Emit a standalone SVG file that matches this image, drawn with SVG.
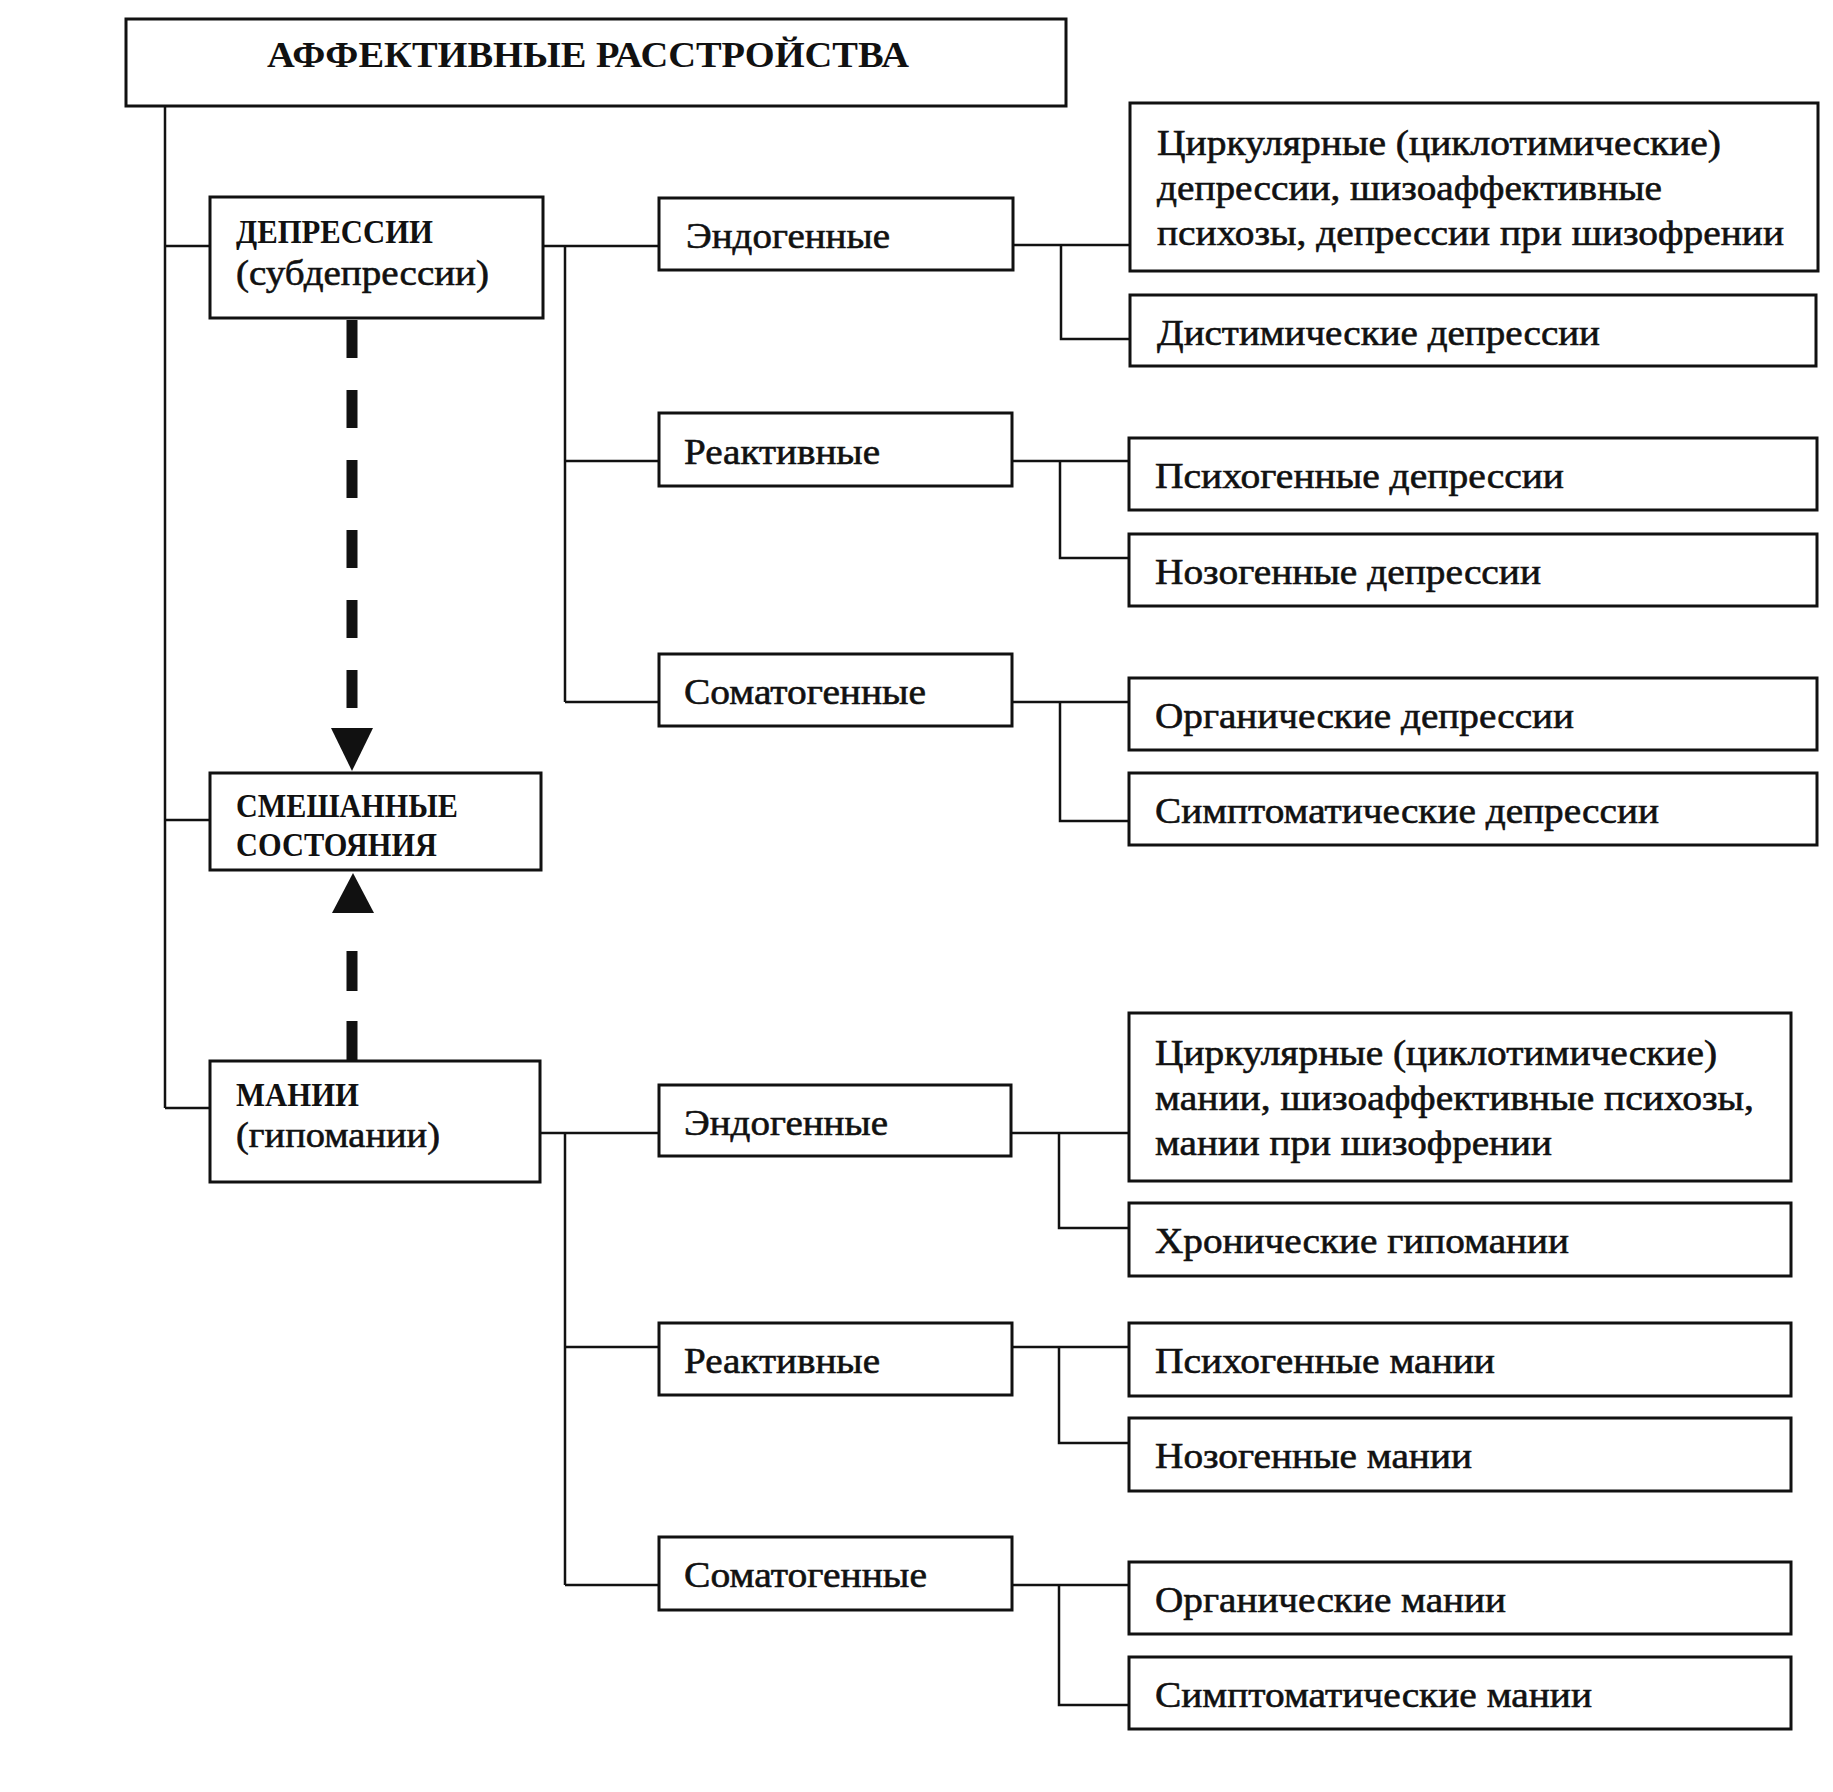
<svg xmlns="http://www.w3.org/2000/svg" width="1833" height="1792" viewBox="0 0 1833 1792">
<defs>
<style>
.box{fill:#fff;stroke:#111;stroke-width:3}
.ln{fill:none;stroke:#111;stroke-width:2.5}
.dash{fill:none;stroke:#111;stroke-width:11}
.t{font-family:"Liberation Serif","Times New Roman",serif;font-size:36px;fill:#111;stroke:#111;stroke-width:0.6}
.b{font-family:"Liberation Serif","Times New Roman",serif;font-size:33px;font-weight:bold;fill:#111}
.h{font-family:"Liberation Serif","Times New Roman",serif;font-size:35px;font-weight:bold;fill:#111}
</style>
</defs>
<rect width="1833" height="1792" fill="#fff"/>
<g id="connectors">
<path class="ln" d="M165,106 V1108 M165,246 H210 M165,820 H210 M165,1108 H210"/>
<path class="ln" d="M543,246 H659 M565,246 V702 M565,461 H659 M565,702 H659"/>
<path class="ln" d="M1013,245 H1130 M1061,245 V339 H1130 M1012,461 H1129 M1060,461 V558 H1129 M1012,702 H1129 M1060,702 V821 H1129"/>
<path class="ln" d="M540,1133 H659 M565,1133 V1585 M565,1347 H659 M565,1585 H659"/>
<path class="ln" d="M1011,1133 H1129 M1059,1133 V1228 H1129 M1012,1347 H1129 M1059,1347 V1443 H1129 M1012,1585 H1129 M1059,1585 V1705 H1129"/>
<line class="dash" x1="352" y1="320" x2="352" y2="708" stroke-dasharray="38 32"/>
<polygon points="331,728 373,728 352,771" fill="#111"/>
<line class="dash" x1="352" y1="1061" x2="352" y2="950" stroke-dasharray="40 30"/>
<polygon points="332,913 374,913 353,873" fill="#111"/>
</g>
<g id="root"><rect class="box" x="126" y="19" width="940" height="87"/><text class="h" x="267" y="67" textLength="642" lengthAdjust="spacingAndGlyphs">АФФЕКТИВНЫЕ РАССТРОЙСТВА</text></g>
<g id="depr"><rect class="box" x="210" y="197" width="333" height="121"/><text class="b" x="236" y="243" textLength="197" lengthAdjust="spacingAndGlyphs">ДЕПРЕССИИ</text><text class="t" x="236" y="285" textLength="253" lengthAdjust="spacingAndGlyphs">(субдепрессии)</text></g>
<g id="mixed"><rect class="box" x="210" y="773" width="331" height="97"/><text class="b" x="236" y="817" textLength="222" lengthAdjust="spacingAndGlyphs">СМЕШАННЫЕ</text><text class="b" x="236" y="856" textLength="201" lengthAdjust="spacingAndGlyphs">СОСТОЯНИЯ</text></g>
<g id="mania"><rect class="box" x="210" y="1061" width="330" height="121"/><text class="b" x="236" y="1106" textLength="123" lengthAdjust="spacingAndGlyphs">МАНИИ</text><text class="t" x="236" y="1147" textLength="204" lengthAdjust="spacingAndGlyphs">(гипомании)</text></g>
<g id="d-endo"><rect class="box" x="659" y="198" width="354" height="72"/><text class="t" x="686" y="248" textLength="204" lengthAdjust="spacingAndGlyphs">Эндогенные</text></g>
<g id="d-react"><rect class="box" x="659" y="413" width="353" height="73"/><text class="t" x="684" y="464" textLength="196" lengthAdjust="spacingAndGlyphs">Реактивные</text></g>
<g id="d-soma"><rect class="box" x="659" y="654" width="353" height="72"/><text class="t" x="684" y="704" textLength="242" lengthAdjust="spacingAndGlyphs">Соматогенные</text></g>
<g id="d-circ"><rect class="box" x="1130" y="103" width="688" height="168"/><text class="t" x="1157" y="155" textLength="564" lengthAdjust="spacingAndGlyphs">Циркулярные (циклотимические)</text><text class="t" x="1157" y="200" textLength="505" lengthAdjust="spacingAndGlyphs">депрессии, шизоаффективные</text><text class="t" x="1157" y="245" textLength="627" lengthAdjust="spacingAndGlyphs">психозы, депрессии при шизофрении</text></g>
<g id="d-dyst"><rect class="box" x="1130" y="295" width="686" height="71"/><text class="t" x="1157" y="345" textLength="443" lengthAdjust="spacingAndGlyphs">Дистимические депрессии</text></g>
<g id="d-psych"><rect class="box" x="1129" y="438" width="688" height="72"/><text class="t" x="1155" y="488" textLength="409" lengthAdjust="spacingAndGlyphs">Психогенные депрессии</text></g>
<g id="d-noso"><rect class="box" x="1129" y="534" width="688" height="72"/><text class="t" x="1155" y="584" textLength="386" lengthAdjust="spacingAndGlyphs">Нозогенные депрессии</text></g>
<g id="d-org"><rect class="box" x="1129" y="678" width="688" height="72"/><text class="t" x="1155" y="728" textLength="419" lengthAdjust="spacingAndGlyphs">Органические депрессии</text></g>
<g id="d-sympt"><rect class="box" x="1129" y="773" width="688" height="72"/><text class="t" x="1155" y="823" textLength="504" lengthAdjust="spacingAndGlyphs">Симптоматические депрессии</text></g>
<g id="m-endo"><rect class="box" x="659" y="1085" width="352" height="71"/><text class="t" x="684" y="1135" textLength="204" lengthAdjust="spacingAndGlyphs">Эндогенные</text></g>
<g id="m-react"><rect class="box" x="659" y="1323" width="353" height="72"/><text class="t" x="684" y="1373" textLength="196" lengthAdjust="spacingAndGlyphs">Реактивные</text></g>
<g id="m-soma"><rect class="box" x="659" y="1537" width="353" height="73"/><text class="t" x="684" y="1587" textLength="243" lengthAdjust="spacingAndGlyphs">Соматогенные</text></g>
<g id="m-circ"><rect class="box" x="1129" y="1013" width="662" height="168"/><text class="t" x="1155" y="1065" textLength="562" lengthAdjust="spacingAndGlyphs">Циркулярные (циклотимические)</text><text class="t" x="1155" y="1110" textLength="599" lengthAdjust="spacingAndGlyphs">мании, шизоаффективные психозы,</text><text class="t" x="1155" y="1155" textLength="397" lengthAdjust="spacingAndGlyphs">мании при шизофрении</text></g>
<g id="m-chron"><rect class="box" x="1129" y="1203" width="662" height="73"/><text class="t" x="1155" y="1253" textLength="414" lengthAdjust="spacingAndGlyphs">Хронические гипомании</text></g>
<g id="m-psych"><rect class="box" x="1129" y="1323" width="662" height="73"/><text class="t" x="1155" y="1373" textLength="340" lengthAdjust="spacingAndGlyphs">Психогенные мании</text></g>
<g id="m-noso"><rect class="box" x="1129" y="1418" width="662" height="73"/><text class="t" x="1155" y="1468" textLength="317" lengthAdjust="spacingAndGlyphs">Нозогенные мании</text></g>
<g id="m-org"><rect class="box" x="1129" y="1562" width="662" height="72"/><text class="t" x="1155" y="1612" textLength="351" lengthAdjust="spacingAndGlyphs">Органические мании</text></g>
<g id="m-sympt"><rect class="box" x="1129" y="1657" width="662" height="72"/><text class="t" x="1155" y="1707" textLength="437" lengthAdjust="spacingAndGlyphs">Симптоматические мании</text></g>
</svg>
